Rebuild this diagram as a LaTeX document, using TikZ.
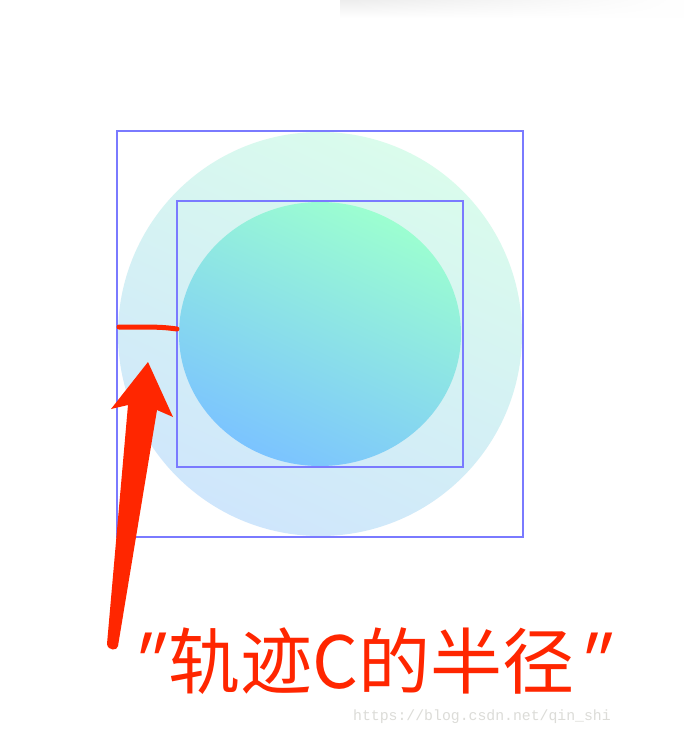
\documentclass[tikz,border=0pt]{standalone}
\usepackage{fontspec}
\newfontfamily\cjk{Noto Sans CJK SC}
\newfontfamily\cjkslant[FakeSlant=0.3]{Noto Sans CJK SC}
\newfontfamily\wmfont{Liberation Mono}
\usetikzlibrary{fadings}
\definecolor{redmark}{HTML}{FF2600}
\definecolor{boxblue}{HTML}{7A7AFF}
\definecolor{outgreen}{HTML}{DAFCEC}
\definecolor{outblue}{HTML}{CFE6FC}
\definecolor{ingreen}{HTML}{9CFFD0}
\definecolor{inblue}{HTML}{7BC3FF}
\definecolor{wmgray}{HTML}{DCDCD8}
\tikzset{
  boxline/.style={draw=boxblue, line width=1.6pt},
  redstroke/.style={draw=redmark, line width=5pt, line cap=round},
  redtext/.style={anchor=base west, inner sep=0pt, text=redmark},
}
\begin{document}
\begin{tikzpicture}[x=1pt,y=-1pt]
\useasboundingbox (0,0) rectangle (684,734);
\fill[white] (0,0) rectangle (684,734);
% top shadow
\shade[top color=black!7, bottom color=white, path fading=east] (340,0) rectangle (684,18);
% outer circle
\shade[top color=outgreen, bottom color=outblue, shading angle=-25] (320,334) circle (202);
% inner ellipse
\shade[top color=ingreen, bottom color=inblue, shading angle=-25] (320,334) ellipse (141 and 132);
% boxes
\draw[boxline] (117,131) rectangle (523,537);
\draw[boxline] (177,201) rectangle (463,467);
% red radius stroke
\coordinate (ra) at (119,327);
\coordinate (rm) at (150,327);
\coordinate (rb) at (177,329);
\draw[redstroke] (ra) -- (rm) .. controls (165,327.5) .. (rb);
% arrow
\fill[redmark] (107,644) -- (128,405) -- (111,409) -- (148,362) -- (173,417) -- (157,410) -- (118,646)
  .. controls (117.5,651) and (108,651) .. (107,644) -- cycle;
% label
\node[redtext, font=\cjkslant\fontsize{72}{80}\selectfont] (qopen) at (122,688) {\char34};
\node[redtext, font=\cjk\fontsize{72}{80}\selectfont] (lab) at (168,688) {轨迹C的半径};
\node[redtext, font=\cjkslant\fontsize{72}{80}\selectfont] (qclose) at (568,688) {\char34};
% watermark
\node[anchor=base west, inner sep=0pt, text=wmgray, font=\wmfont\fontsize{14.8}{16}\selectfont] (wm) at (353,720) {https://blog.csdn.net/qin\_shi};
\end{tikzpicture}
\end{document}
